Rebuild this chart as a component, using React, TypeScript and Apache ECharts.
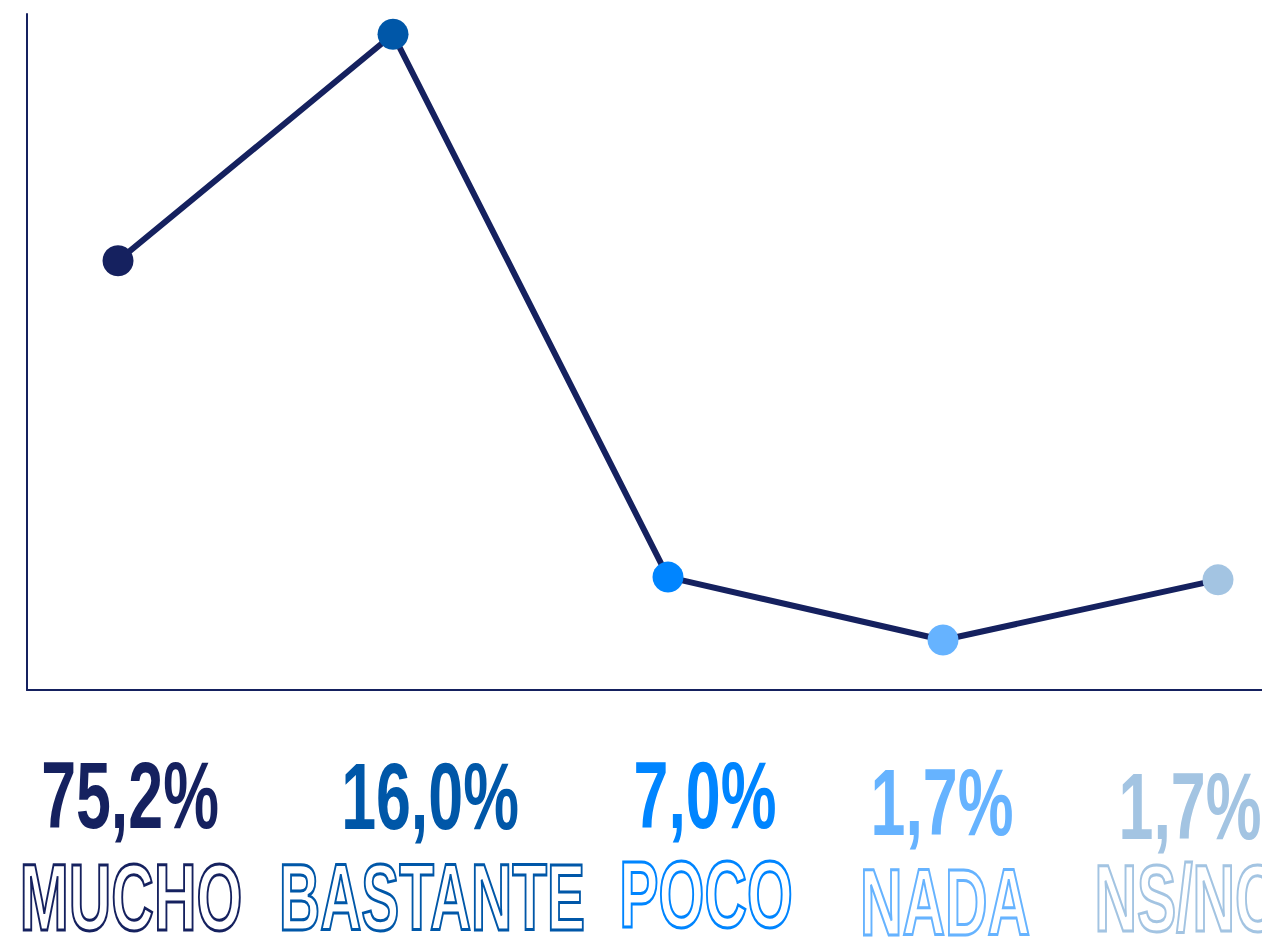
import React, { useEffect, useRef } from "react";
import * as echarts from "echarts";

const categories = ["MUCHO", "BASTANTE", "POCO", "NADA", "NS/NC"];
const percentLabels = ["75,2%", "16,0%", "7,0%", "1,7%", "1,7%"];
// vertical levels of the decorative line (0-100 scale of the plot height)
const lineLevels = [63.5, 97.0, 16.7, 7.4, 16.3];
const pointColors = ["#15215f", "#0057a8", "#0085ff", "#66b3ff", "#a3c4e2"];

// label layout (centres) — positions only
const labelCenterX = [130, 430, 705, 942, 1190];
const nameCenterX = [131, 432, 706, 945, 1186];
const percentCenterY = [795, 796, 795, 802, 806];
const nameCenterY = [897, 897, 894, 902, 898];
const nameScaleX = [0.62, 0.6, 0.62, 0.62, 0.62];

const NAVY = "#15215f";

export default function App() {
  const ref = useRef<HTMLDivElement>(null);
  useEffect(() => {
    if (!ref.current) return;
    const chart = echarts.init(ref.current, null, { renderer: "svg" });
    const graphics: any[] = [];
    categories.forEach((c, i) => {
      graphics.push({
        type: "text",
        x: labelCenterX[i],
        y: percentCenterY[i],
        scaleX: 0.66,
        style: {
          text: percentLabels[i],
          x: 0,
          y: 0,
          textAlign: "center",
          textVerticalAlign: "middle",
          font: "bold 95px 'Liberation Sans', Arial, sans-serif",
          fill: pointColors[i],
        },
      });
      graphics.push({
        type: "text",
        x: nameCenterX[i],
        y: nameCenterY[i],
        scaleX: nameScaleX[i],
        style: {
          text: c,
          x: 0,
          y: 0,
          textAlign: "center",
          textVerticalAlign: "middle",
          font: "bold 95px 'Liberation Sans', Arial, sans-serif",
          fill: "transparent",
          stroke: pointColors[i],
          lineWidth: 3,
        },
      });
    });
    chart.setOption({
      animation: false,
      backgroundColor: "#ffffff",
      grid: { left: 27, top: 14, right: 0, bottom: 247, containLabel: false },
      xAxis: {
        type: "value",
        min: -0.331,
        max: 4.16,
        axisLine: { show: true, onZero: false, lineStyle: { color: NAVY, width: 2 } },
        axisTick: { show: false },
        axisLabel: { show: false },
        splitLine: { show: false },
      },
      yAxis: {
        type: "value",
        min: 0,
        max: 100,
        axisLine: { show: true, onZero: false, lineStyle: { color: NAVY, width: 2 } },
        axisTick: { show: false },
        axisLabel: { show: false },
        splitLine: { show: false },
      },
      series: [
        {
          type: "line",
          data: lineLevels.map((v, i) => ({
            value: [i, v],
            name: categories[i],
            itemStyle: { color: pointColors[i] },
          })),
          symbol: "circle",
          symbolSize: 31,
          lineStyle: { color: NAVY, width: 6 },
          itemStyle: { borderWidth: 0 },
          z: 3,
        },
      ],
      graphic: graphics,
    });
    return () => chart.dispose();
  }, []);
  return (
    <div
      ref={ref}
      style={{ position: "fixed", left: 0, top: 0, width: 1262, height: 937 }}
    />
  );
}
